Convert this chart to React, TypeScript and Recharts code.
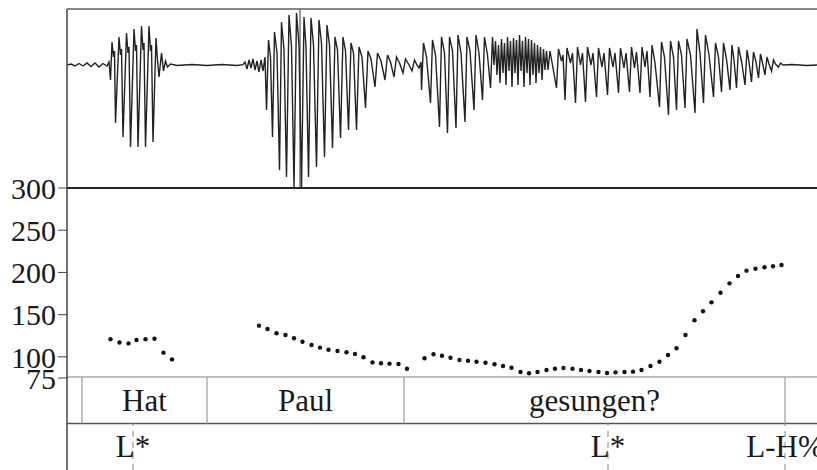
import {
  LineChart, Line, ScatterChart, Scatter, XAxis, YAxis, ReferenceLine,
} from "recharts";

// time axis in ms, shared by all three panels
const T_MAX = 1550;
const FONT = "'Liberation Serif', 'Times New Roman', serif";

// oscillogram: [ms, amplitude]
const waveStart = [[0,0],[8,1],[16,-1],[24,1.5],[32,-1],[40,2],[48,-1.5],[56,2],[64,-2],[72,1.5],[80,-1],[84,3]];
const waveHat = [
  [87,-15],[90,23],[93,8],[95,14],[97,-58],[104,28],[107,10],[109,16],[112,-72],[119,32],[122,12],[124,18],
  [127,-82],[134,36],[137,14],[139,20],[142,-82],[149,39],[152,15],[154,22],[157,-82],[164,39],[167,14],[169,20],
  [172,-77],[178,27],[181,5],[184,-12],[189,12],[193,-6],[197,4],[201,-2],[207,1],
];
const wavePause = [[220,-0.5],[250,0.5],[280,-0.5],[310,0.5],[340,-0.5],[352,0.3],
  [356,3],[360,-4],[364,5],[368,-3],[372,6],[376,-5],[380,4],[384,-7],[388,5],[392,-6],[396,8]];
const wavePaul = [
  [399,-45],[403,25],[407,8],[411,-72],[415,33],[420,12],[425,-105],[429,43],[434,15],
  [439,-112],[444,50],[449,18],[454,-122],[459,52],[464,20],[469,-122],[474,48],[478,18],
  [483,-112],[488,47],[493,20],[499,-102],[504,45],[509,22],[515,-92],[520,40],[525,20],
  [531,-83],[536,28],[541,15],[547,-73],[552,28],[557,14],[563,-65],[568,22],[573,12],
  [579,-65],[584,18],[590,8],[597,-43],[602,14],[608,6],[616,-22],[621,12],[628,4],
  [636,-15],[641,10],[647,3],[654,-12],[659,8],[665,2],[672,-8],[677,6],[683,1],
  [690,-6],[695,5],[700,0],[704,-3],[708,3],
];
const waveGes1 = [
  [709,-25],[713,22],[719,8],[727,-38],[731,25],[737,10],[745,-62],[749,28],[755,12],
  [761,-68],[765,28],[771,14],[778,-63],[782,30],[788,12],[796,-57],[800,28],[806,14],
  [814,-45],[818,30],[824,12],[831,-35],[835,28],[841,10],[847,-23],[851,28],
  [854,0],[857,24],[860,-10],[863,20],[866,-18],[869,26],[872,-8],[875,22],[878,-20],[881,28],
  [884,-6],[887,24],[890,-22],[893,27],[896,-8],[899,25],[902,-20],[905,30],[908,-6],[911,24],
  [914,-22],[917,28],[920,-8],[923,26],[926,-20],[929,25],[932,-10],[935,22],[938,-18],[941,20],
  [944,-8],[947,18],[950,-15],[953,16],[956,-5],[959,14],[962,-5],[966,14],
];
const waveGes2 = [
  [979,-23],[983,16],[989,4],[992,10],[996,-35],[1000,17],[1007,2],[1011,12],
  [1017,-38],[1021,18],[1027,0],[1031,12],[1037,-37],[1041,18],[1048,0],[1052,12],
  [1059,-32],[1063,17],[1070,-2],[1074,12],[1081,-30],[1085,17],[1092,-2],[1096,12],
  [1103,-28],[1107,17],[1114,-3],[1118,12],[1125,-27],[1129,18],[1135,-3],[1139,13],
  [1146,-28],[1150,18],[1156,-2],[1160,14],[1166,-32],[1170,20],[1176,2],
  [1185,-42],[1189,23],[1195,8],[1203,-50],[1207,24],[1213,8],[1219,-45],[1223,24],[1229,10],
  [1236,-43],[1240,26],[1247,10],[1256,-48],[1260,36],[1266,12],[1273,-38],[1277,30],[1284,10],
  [1293,-32],[1297,22],[1303,8],[1309,-27],[1313,22],[1319,6],[1326,-25],[1330,20],[1334,5],
  [1339,-23],[1343,18],[1349,4],[1356,-20],[1360,15],[1364,3],[1369,-17],[1373,13],[1378,3],
  [1383,-13],[1387,11],[1391,2],[1396,-10],[1400,8],[1404,1],[1409,-6],[1413,5],[1417,1],
  [1423,-2],[1427,2],[1432,0],[1450,0.5],[1480,-0.5],[1510,0.3],[1550,0],
];
const cursorMs = 466;

// pitch track (Hz)
const pitchHatT = [87,105,123,139,157,175,193,210];
const pitchHatHz = [121,117,116,120,121,121.5,105,97];
const pitchPaulT = [384,401,419,437,454,471,489,506,523,541,559,576,593,611,628,645,663,680];
const pitchPaulHz = [137,133,128,126,122,118,114,111,108.5,107,105.5,103.5,99.5,93.5,92.5,92,91.5,86];
const pitchGesT = [715,733,750,767,785,802,819,837,855,872,889,907,924,941,959,976,993,1011,1028,1045,
  1063,1080,1097,1115,1132,1149,1167,1185,1202,1219,1237,1255,1272,1289,1307,1325,1342,1359,1377,1395,1412,1429];
const pitchGesHz = [98.3,103.1,101.4,99,96.3,95.5,94.3,93.1,91.2,89.2,87.2,82.1,80.6,82.1,84.5,86,86.8,86,84.5,83.3,
  82.1,80.9,81.7,82.1,82.5,84.5,89.2,94.3,102.2,110.2,125.9,143.3,154,164.6,176,187.1,195.8,202.1,204.4,206.1,207.3,208.8];
const pitchTicks = [75, 100, 150, 200, 250, 300];

// annotation tiers
const wordBounds = [30, 280, 674, 1436];
const words = ["Hat", "Paul", "gesungen?"];
const toneTimes = [132, 1082, 1436];
const tones = ["L*", "L*", "L-H%"];

const waveData = [...waveStart, ...waveHat, ...wavePause, ...wavePaul, ...waveGes1, ...waveGes2]
  .map(([t, a]) => ({ t, a }));
const pitchData = [
  ...pitchHatT.map((t, i) => ({ t, hz: pitchHatHz[i] })),
  ...pitchPaulT.map((t, i) => ({ t, hz: pitchPaulHz[i] })),
  ...pitchGesT.map((t, i) => ({ t, hz: pitchGesHz[i] })),
];
const labelData = [
  ...words.map((w, i) => ({ t: (wordBounds[i] + wordBounds[i + 1]) / 2, y: 1.5, label: w })),
  ...tones.map((w, i) => ({ t: toneTimes[i], y: 0.5, label: w })),
];

const W = 842;
const xAxis = <XAxis type="number" dataKey="t" domain={[0, T_MAX]} hide allowDataOverflow />;

const TierLabel = (p: any) => (
  <text x={p.cx} y={p.cy} textAnchor="middle" dominantBaseline="central"
        fontFamily={FONT} fontSize={31} fill="#1a1a1a">{p.payload.label}</text>
);

export default function App() {
  return (
    <div style={{ position: "fixed", left: 0, top: 0, width: 817, height: 470, overflow: "hidden", background: "#fff" }}>
      <div style={{ position: "absolute", left: 0, top: 0 }}>
        <LineChart width={W} height={190} data={waveData} margin={{ top: 9, right: 0, bottom: 2, left: 0 }}>
          {xAxis}
          <YAxis type="number" domain={[-123, 56]} width={67} tick={false} tickLine={false}
                 axisLine={{ stroke: "#444", strokeWidth: 1.5 }} allowDataOverflow />
          <ReferenceLine y={56} stroke="#888" strokeWidth={2} />
          <ReferenceLine x={cursorMs} stroke="#555" strokeWidth={1.2} />
          <Line type="linear" dataKey="a" stroke="#222" strokeWidth={1.4} dot={false} isAnimationActive={false} />
        </LineChart>
      </div>
      <div style={{ position: "absolute", left: 0, top: 357 }}>
        <ScatterChart width={W} height={140} margin={{ top: 20, right: 0, bottom: 27, left: 0 }}>
          {xAxis}
          <YAxis type="number" dataKey="y" domain={[0, 2]} width={67} tick={false} tickLine={false}
                 axisLine={{ stroke: "#444", strokeWidth: 1.5 }} />
          <ReferenceLine y={2} stroke="#aaa" strokeWidth={1.5} />
          <ReferenceLine y={1} stroke="#555" strokeWidth={1.5} />
          {wordBounds.map((b) => (
            <ReferenceLine key={"w" + b} segment={[{ x: b, y: 1 }, { x: b, y: 2 }]} stroke="#999" strokeWidth={1.2} />
          ))}
          {toneTimes.map((b) => (
            <ReferenceLine key={"t" + b} segment={[{ x: b, y: 0 }, { x: b, y: 1 }]} stroke="#999" strokeWidth={1.2} strokeDasharray="6 5" />
          ))}
          <Scatter data={labelData} shape={TierLabel} isAnimationActive={false} />
        </ScatterChart>
      </div>
      <div style={{ position: "absolute", left: 0, top: 168 }}>
        <ScatterChart width={W} height={230} margin={{ top: 20, right: 0, bottom: 20, left: 0 }}>
          {xAxis}
          <YAxis type="number" dataKey="hz" domain={[75, 300]} ticks={pitchTicks} width={67} interval={0}
                 tickSize={9} tickMargin={2} tickLine={{ stroke: "#444" }}
                 axisLine={{ stroke: "#444", strokeWidth: 1.5 }}
                 tick={{ fontFamily: FONT, fontSize: 30, fill: "#1a1a1a" }} />
          <ReferenceLine y={300} stroke="#222" strokeWidth={2} />
          <Scatter data={pitchData} fill="#111" isAnimationActive={false}
                   shape={(p: any) => <circle cx={p.cx} cy={p.cy} r={2.2} fill="#111" />} />
        </ScatterChart>
      </div>
    </div>
  );
}
